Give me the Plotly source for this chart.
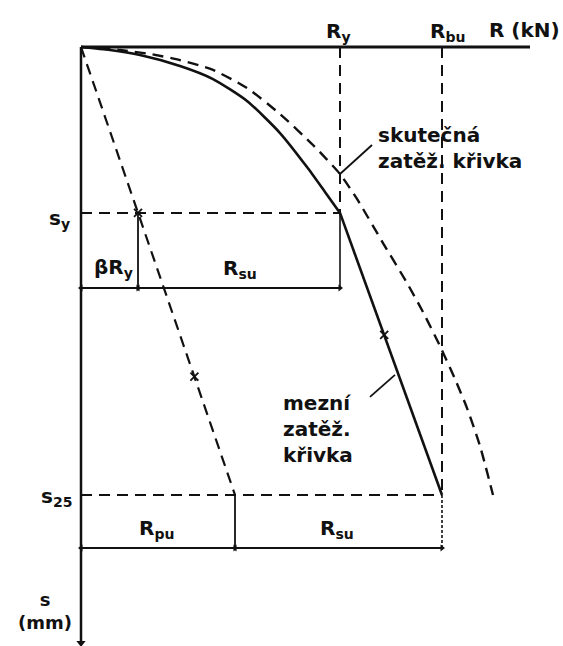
import plotly.graph_objects as go

# Load-settlement diagram of a pile: load R (kN) along the top, settlement s (mm) downward

# characteristic loads (kN)
R_y = 1295        # load at the yield point
R_bu = 1805       # ultimate load
R_pu = 770        # base resistance at s25
beta_R_y = 285    # base share at the yield point
R_axis_end = 2245

# characteristic settlements (mm)
s_y = 9.26
s_25 = 25.0
s_axis_end = 33.26
s_dim_upper = 13.45   # βRy / Rsu dimension line
s_dim_lower = 27.96   # Rpu / Rsu dimension line

# actual load-settlement curve (dashed)
R_actual = [0, 195, 345, 495, 660, 830, 995, 1160, 1295, 1380, 1510,
            1630, 1710, 1795, 1870, 1930, 1995, 2060]
s_actual = [0, 0.17, 0.39, 0.73, 1.28, 2.29, 3.74, 5.47, 7.09, 8.48, 10.94,
            13.17, 14.79, 16.69, 18.53, 20.15, 22.27, 25.0]

# limit load-settlement curve (solid): curved up to yield, then straight
R_limit_curve = [0, 145, 295, 495, 660, 830, 995, 1130, 1220, 1295]
s_limit_curve = [0, 0.17, 0.45, 1.06, 1.79, 3.01, 4.80, 6.70, 8.09, 9.26]
R_limit_line = [R_y, R_bu]
s_limit_line = [s_y, s_25]

# base resistance line (dashed)
R_base = [0, beta_R_y, R_pu]
s_base = [0, s_y, s_25]

# small tick marks on the lines
R_marks = [beta_R_y, 567, 1516]
s_marks = [s_y, 18.4, 16.07]

# leader lines for the curve labels
R_lead_actual = [R_y, 1455]
s_lead_actual = [7.09, 5.47]
R_lead_limit = [1445, 1570]
s_lead_limit = [19.53, 18.30]

INK = "#111111"
DASH = "11px,7px"

fig = go.Figure()


def seg(x, y, width=2.0, dash="solid", shape="linear"):
    fig.add_trace(go.Scatter(
        x=x, y=y, mode="lines", hoverinfo="skip", showlegend=False,
        line=dict(color=INK, width=width, dash=dash, shape=shape,
                  smoothing=0.6 if shape == "spline" else None),
    ))


# axes
seg([0, R_axis_end], [0, 0], width=3)
seg([0, 0], [0, s_axis_end], width=2.5)
fig.add_trace(go.Scatter(
    x=[0], y=[s_axis_end], mode="markers", hoverinfo="skip", showlegend=False,
    marker=dict(symbol="triangle-down", size=8, color=INK),
))

# reference verticals and horizontals
seg([R_y, R_y], [0, s_y], width=2, dash=DASH)
seg([R_y, R_y], [s_y, s_dim_upper], width=1.6)
seg([R_bu, R_bu], [0, s_25], width=2, dash=DASH)
seg([R_bu, R_bu], [s_25, s_dim_lower], width=1.6, dash="3px,2px")
seg([0, R_y], [s_y, s_y], width=2, dash=DASH)
seg([0, R_bu], [s_25, s_25], width=2, dash=DASH)
seg([beta_R_y, beta_R_y], [s_y, s_dim_upper], width=1.8)
seg([R_pu, R_pu], [s_25, s_dim_lower], width=1.8)

# dimension lines with arrowheads
for left, right, lev in [(0, beta_R_y, s_dim_upper), (beta_R_y, R_y, s_dim_upper),
                         (0, R_pu, s_dim_lower), (R_pu, R_bu, s_dim_lower)]:
    seg([left, right], [lev, lev], width=2)
    fig.add_trace(go.Scatter(
        x=[left, right], y=[lev, lev], mode="markers", hoverinfo="skip",
        showlegend=False,
        marker=dict(symbol=["triangle-left", "triangle-right"], size=6, color=INK),
    ))

# curves
seg(R_actual, s_actual, width=2.4, dash=DASH, shape="spline")
seg(R_limit_curve, s_limit_curve, width=2.6, shape="spline")
seg(R_limit_line, s_limit_line, width=2.6)
seg(R_base, s_base, width=2.2, dash=DASH)

fig.add_trace(go.Scatter(
    x=R_marks, y=s_marks, mode="markers", hoverinfo="skip", showlegend=False,
    marker=dict(symbol="x-thin-open", size=8, color=INK,
                line=dict(color=INK, width=1.8)),
))

# leaders
seg(R_lead_actual, s_lead_actual, width=1.8)
seg(R_lead_limit, s_lead_limit, width=1.8)

FONT = dict(family="DejaVu Sans", size=20, color=INK, weight="bold")


def label(x, y, text, xanchor="center", yanchor="middle", align="center", size=None):
    f = dict(FONT)
    if size:
        f["size"] = size
    fig.add_annotation(x=x, y=y, text=text, showarrow=False, xanchor=xanchor,
                       yanchor=yanchor, align=align, font=f)


label(1285, -0.84, "R<sub>y</sub>")
label(1830, -0.84, "R<sub>bu</sub>")
label(2215, -0.95, "R (kN)")
label(-45, 9.6, "s<sub>y</sub>", xanchor="right")
label(160, 12.35, "βR<sub>y</sub>")
label(795, 12.4, "R<sub>su</sub>")
label(-35, 25.1, "s<sub>25</sub>", xanchor="right")
label(375, 26.9, "R<sub>pu</sub>")
label(1280, 26.9, "R<sub>su</sub>")
label(-180, 31.5, "s<br>(mm)", size=18)
label(1475, 5.64, "skutečná<br>zatěž. křivka", xanchor="left", align="left")
label(1000, 21.32, "mezní<br>zatěž.<br>křivka", xanchor="left", align="left")

fig.update_layout(
    width=563, height=646,
    margin=dict(l=0, r=0, t=0, b=0),
    paper_bgcolor="white", plot_bgcolor="white",
    xaxis=dict(range=[-405, 2410], visible=False),
    yaxis=dict(range=[33.43, -2.623], visible=False),
)

fig.write_html("out.html")
